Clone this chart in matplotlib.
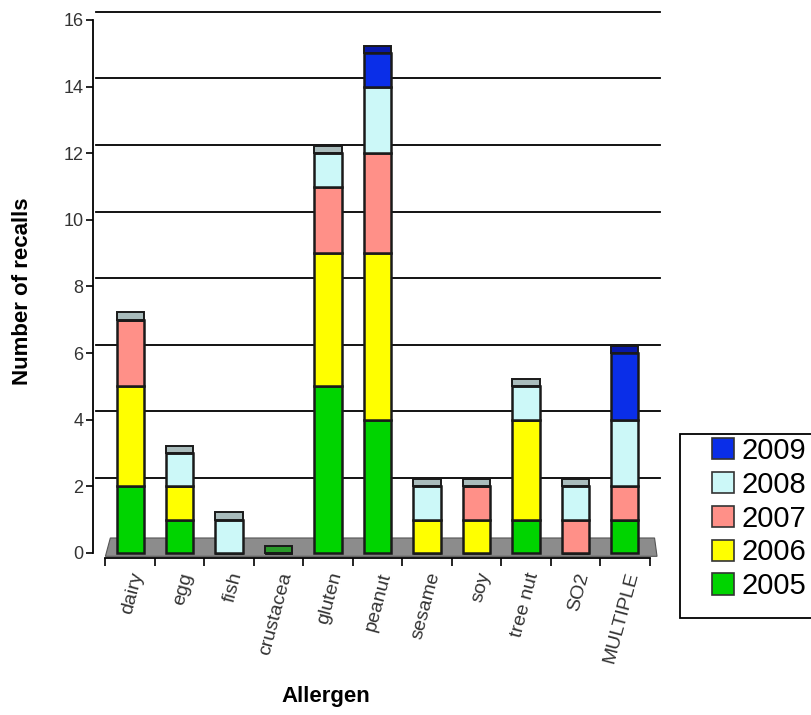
import matplotlib
matplotlib.use("Agg")
import matplotlib.pyplot as plt
from matplotlib.patches import Patch, Polygon, Rectangle
import numpy as np

plt.rcParams["font.family"] = ["Liberation Sans", "DejaVu Sans"]

# Recalls per allergen, stacked by year
allergens = ["dairy", "egg", "fish", "crustacea", "gluten", "peanut",
             "sesame", "soy", "tree nut", "SO2", "MULTIPLE"]
years = ["2005", "2006", "2007", "2008", "2009"]
r2005 = [2, 1, 0, 0, 5, 4, 0, 0, 1, 0, 1]
r2006 = [3, 1, 0, 0, 4, 5, 1, 1, 3, 0, 0]
r2007 = [2, 0, 0, 0, 2, 3, 0, 1, 0, 1, 1]
r2008 = [0, 1, 1, 0, 1, 2, 1, 0, 1, 1, 2]
r2009 = [0, 0, 0, 0, 0, 1, 0, 0, 0, 0, 2]
series = [r2005, r2006, r2007, r2008, r2009]
colors = ["#00d400", "#ffff00", "#ff9088", "#ccf8f8", "#0a2ee8"]

fig = plt.figure(figsize=(8.11, 7.15), dpi=100)
ax = fig.add_axes([0.1147, 0.2196, 0.6991, 0.7618])
ax.set_xlim(-0.75, 10.71)
ax.set_ylim(-0.15, 16.2)

x = np.arange(len(allergens))

# gridlines (slightly raised, as in the 3-D original)
for v in range(2, 17, 2):
    ax.plot([-0.68, 10.71], [v + 0.25, v + 0.25], color="black", lw=1.3,
            zorder=1, clip_on=False)

# grey floor
floor = Polygon([(-0.5, -0.1), (-0.4, 0.45), (10.6, 0.45), (10.65, -0.1)],
                closed=True, facecolor="#8c8c8c", edgecolor="#555555",
                lw=0.8, zorder=2)
ax.add_patch(floor)

width = 0.55
bottom = np.zeros(len(allergens))
for vals, col in zip(series, colors):
    vals = np.array(vals, dtype=float)
    ax.bar(x, vals, width, bottom=bottom, color=col, edgecolor="#1a1a1a",
           lw=1.8, zorder=3)
    bottom += vals

# top faces of the bars
tot = bottom
for i in range(len(allergens)):
    if tot[i] == 0:
        cap = "#2a9a2a"
    elif r2009[i] > 0:
        cap = "#0818a8"
    else:
        cap = "#a9bcbc"
    ax.bar(x[i], 0.22, width, bottom=tot[i], color=cap,
           edgecolor="#1a1a1a", lw=1.4, zorder=3)

# axes styling
for s in ["top", "right", "bottom"]:
    ax.spines[s].set_visible(False)
ax.spines["left"].set_linewidth(1.3)
ax.spines["left"].set_bounds(0, 16)
ax.plot([-0.5, 10.5], [-0.15, -0.15], color="black", lw=1.3, clip_on=False)

ax.set_yticks(range(0, 17, 2))
ax.tick_params(axis="y", labelsize=13, labelcolor="#333333", length=5,
               width=1.2, pad=2)
ax.set_xticks(x)
ax.set_xticklabels(allergens, rotation=75, ha="right", va="top",
                   rotation_mode="anchor", fontsize=14, color="#333333")
ax.tick_params(axis="x", length=0, pad=9)
ax.set_xticks(np.arange(-0.5, 11, 1), minor=True)
ax.tick_params(axis="x", which="minor", length=6, width=1.2)

ax.set_ylabel("Number of recalls", fontsize=16, fontweight="bold")
ax.yaxis.set_label_coords(-0.106, 0.49)
ax.set_xlabel("Allergen", fontsize=16, fontweight="bold")
ax.xaxis.set_label_coords(0.41, -0.235)

# legend with a frame running off the right edge
fig.patches.append(Rectangle((0.8385, 0.136), 0.2, 0.257, transform=fig.transFigure,
                             facecolor="white", edgecolor="black", lw=1.3,
                             figure=fig))
handles = [Patch(facecolor=c, edgecolor="#333333", lw=1.2, label=y)
           for y, c in zip(years, colors)][::-1]
leg = fig.legend(handles=handles, loc="upper left",
                 bbox_to_anchor=(0.878, 0.389), fontsize=21, frameon=False,
                 handlelength=0.75, handleheight=0.75, borderaxespad=0,
                 handletextpad=0.25, labelspacing=0.2, borderpad=0)

fig.savefig("out.png", dpi=100)
